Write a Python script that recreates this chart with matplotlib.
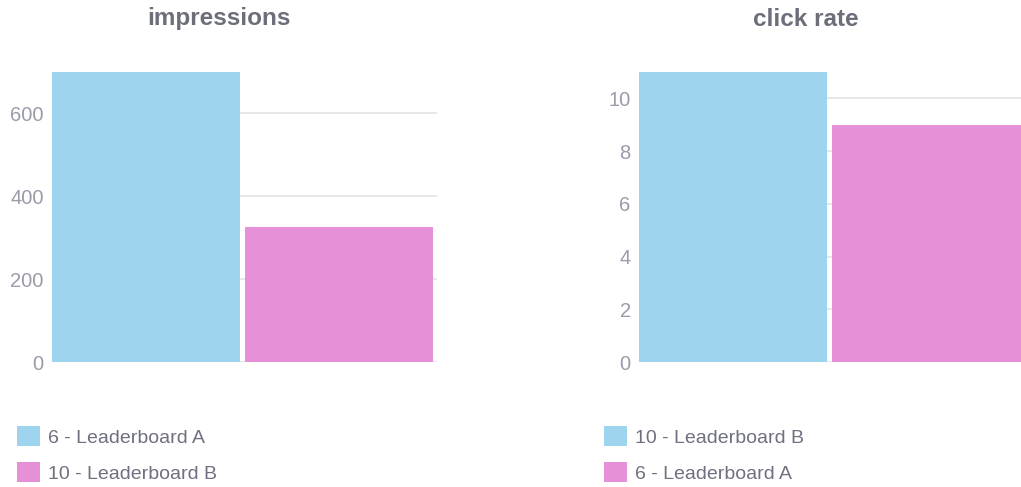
import matplotlib
matplotlib.use("Agg")
from matplotlib import pyplot as plt
from matplotlib.patches import Patch

plt.rcParams['font.family'] = ['Liberation Sans', 'DejaVu Sans']

# data
impressions_labels = ["6 - Leaderboard A", "10 - Leaderboard B"]
impressions_values = [700, 325]
impressions_ticks = [0, 200, 400, 600]

click_labels = ["10 - Leaderboard B", "6 - Leaderboard A"]
click_values = [11, 9]
click_ticks = [0, 2, 4, 6, 8, 10]

bar_colors = ["#9ed4ee", "#e691d7"]
title_color = "#6c6e7a"
tick_color = "#9a9bab"
legend_color = "#6f7080"
grid_color = "#e3e3e6"

W, H = 1021, 487
fig = plt.figure(figsize=(W / 100, H / 100), dpi=100)


def draw_panel(left_px, width_px, title, title_x, labels, values, ticks, legend_x):
    ax = fig.add_axes([left_px / W, (H - 362) / H, width_px / W, 290 / H])
    xs = list(range(len(values)))
    ax.bar(xs, values, width=0.974, color=bar_colors, zorder=2)
    ax.set_xlim(-0.487, 1.508)
    ax.set_ylim(0, max(values))
    ax.set_yticks(ticks)
    ax.set_xticks([])
    for s in ax.spines.values():
        s.set_visible(False)
    ax.grid(axis="y", color=grid_color, linewidth=1.2, zorder=0)
    ax.set_axisbelow(True)
    ax.tick_params(axis="y", length=0, pad=6, labelsize=14.5, labelcolor=tick_color)
    fig.text(title_x / W, 1 - 19 / H, title, ha="center", va="center",
             fontsize=17.5, fontweight="bold", color=title_color)
    handles = [Patch(facecolor=c, edgecolor="none") for c in bar_colors]
    fig.legend(handles, labels, loc="upper left",
               bbox_to_anchor=(legend_x / W, 1 - 426 / H),
               frameon=False, fontsize=14, handlelength=1.2, handleheight=1.2,
               handletextpad=0.4, labelspacing=0.8, borderpad=0, borderaxespad=0,
               labelcolor=legend_color)
    return ax


draw_panel(52, 385, "impressions", 219, impressions_labels, impressions_values,
           impressions_ticks, 17)
draw_panel(639, 386, "click rate", 806, click_labels, click_values,
           click_ticks, 604)

fig.savefig("out.png", dpi=100)
